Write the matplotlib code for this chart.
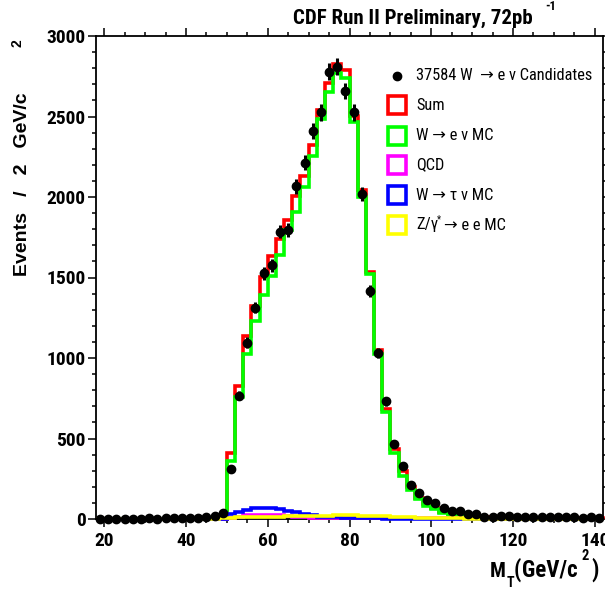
import numpy as np
import matplotlib
matplotlib.use("Agg")
import matplotlib.pyplot as plt
from matplotlib.patches import Rectangle
from matplotlib.lines import Line2D
from matplotlib import font_manager as fm

# ---------------- data ----------------
bin_edges_start, bin_edges_stop, bin_width = 18, 142, 2

data_counts = [3, 2, 3, 2, 3, 3, 4, 3, 4, 5, 5, 7, 9, 12, 16,
               38,
               310, 765, 1095, 1313, 1525, 1575, 1785, 1795, 2066, 2213,
               2410, 2525, 2777, 2808, 2659, 2525, 2020, 1417, 1031, 731,
               465, 330, 210, 162, 116, 100, 70, 50, 52, 31,
               30, 14, 14, 16, 16, 14, 12, 10, 12, 10, 14, 12, 10, 8, 10, 9]

sum_mc = [0] * 16 + [413, 825, 1134, 1325, 1502, 1632, 1740, 1860, 2006, 2128,
                     2325, 2539, 2705, 2825, 2788, 2503, 2041, 1533, 1052, 686,
                     434, 299, 199, 133, 91, 70, 45, 29, 22, 16,
                     12, 10,
                     8, 7, 7, 6, 6, 5, 5, 5, 4, 4, 4, 4, 4, 4]

w_enu = [0] * 16 + [361, 755, 1025, 1228, 1392, 1512, 1637, 1792, 1906, 2062,
                    2253, 2483, 2651, 2769, 2738, 2466, 1999, 1523, 1025, 662,
                    413, 268, 179, 123, 81, 60, 39, 23, 17, 12,
                    8, 6,
                    4, 4, 3, 3, 3, 2, 2, 2, 2, 1, 1, 1, 1, 1]

qcd = [0] * 16 + [8, 15, 22, 25, 27, 27, 25, 20, 15, 10,
                  8, 6, 5, 5, 5, 5, 5, 5, 5, 5,
                  5, 5, 5, 5, 5, 5, 5, 5, 5, 4,
                  4, 4,
                  3, 3, 3, 3, 3, 3, 3, 3, 3, 3, 3, 3, 3, 3]

w_taunu = [0] * 16 + [30, 45, 58, 68, 70, 70, 62, 47, 42, 28,
                      25, 15, 12, 10, 8, 7, 6, 5, 4, 3,
                      3, 2, 1, 1, 0, 0, 0, 0, 0, 0,
                      0, 0] + [0] * 14

z_ee = [0] * 15 + [5] + [8, 10, 11, 12, 13, 14, 15, 16, 17, 18,
                         19, 20, 21, 22, 22, 22, 21, 20, 19, 17,
                         15, 13, 11, 9, 8, 7, 6, 5, 4, 3,
                         2, 1] + [0] * 14

legend_labels = ["37584 W  \u2192 e \u03bd Candidates", "Sum",
                 "W \u2192 e \u03bd MC", "QCD", "W \u2192 \u03c4 \u03bd MC"]
x_ticks = [20, 40, 60, 80, 100, 120, 140]
y_ticks = [0, 500, 1000, 1500, 2000, 2500, 3000]

# ---------------- fonts ----------------
def pick_font(cands, fallback):
    faces = {}
    for f in fm.fontManager.ttflist:
        faces.setdefault(f.name, set()).add((f.weight if isinstance(f.weight, int) else 400, f.style))
    for name in cands:
        w = faces.get(name, set())
        if any(x[0] >= 700 and x[1] == "normal" for x in w) and any(x[0] == 400 and x[1] == "normal" for x in w):
            return name
    return fallback


NARROW = pick_font(["Liberation Sans Narrow", "Arial Narrow", "Nimbus Sans Narrow",
                    "Roboto Condensed", "Archivo Narrow", "PT Sans Narrow",
                    "Fira Sans Condensed"], "Liberation Sans")
WIDE = "Liberation Sans"
NARROW_FAM = [NARROW, "DejaVu Sans"]

W, H = 605, 594
fig = plt.figure(figsize=(W / 100, H / 100), dpi=100)
fig.patch.set_facecolor("white")


def fx(px):
    return px / W


def fy(py):
    return 1 - py / H


ax_l, ax_r, ax_t, ax_b = 96, 603, 36, 519
ax = fig.add_axes([fx(ax_l), fy(ax_b), (ax_r - ax_l) / W, (ax_b - ax_t) / H])

edges = np.arange(bin_edges_start, bin_edges_stop + bin_width, bin_width)
centers = edges[:-1] + bin_width / 2

lw = 2.6
ax.stairs(sum_mc, edges, color="#ff0000", lw=lw, zorder=3, clip_on=False)
ax.stairs(w_enu, edges, color="#00ff00", lw=lw, zorder=3.1, clip_on=False)
ax.stairs(qcd, edges, color="#ff00ff", lw=lw, zorder=3.2, clip_on=False)
ax.stairs(w_taunu, edges, color="#0000ff", lw=lw, zorder=3.3, clip_on=False)
ax.stairs(z_ee, edges, color="#ffff00", lw=lw, zorder=3.4, clip_on=False)

d = np.array(data_counts, dtype=float)
ax.errorbar(centers, d, yerr=np.sqrt(d), fmt="o", color="black", ms=6,
            elinewidth=2.2, capsize=0, zorder=10, clip_on=False)

ax.set_xlim(bin_edges_start, bin_edges_stop)
ax.set_ylim(0, 3000)
ax.set_xticks(x_ticks)
ax.set_yticks(y_ticks)
ax.set_xticks(np.arange(20, 141, 5), minor=True)
ax.set_yticks(np.arange(0, 3001, 100), minor=True)
ax.tick_params(which="both", direction="out", top=True, right=True, width=1.1)
ax.tick_params(which="major", length=6)
ax.tick_params(which="minor", length=3)
ax.tick_params(axis="y", pad=1.5)
ax.tick_params(axis="x", pad=3)
for lab in ax.get_xticklabels() + ax.get_yticklabels():
    lab.set_family(NARROW_FAM)
    lab.set_fontweight("bold")
    lab.set_fontsize(14)
for sp in ax.spines.values():
    sp.set_linewidth(1.3)

# ---------------- titles / labels ----------------
fig.text(fx(293), fy(24), "CDF Run II Preliminary, 72pb", family=NARROW_FAM,
         fontweight="bold", fontsize=15, va="baseline", ha="left")
fig.text(fx(545), fy(10), "-1", family=NARROW_FAM, fontweight="bold",
         fontsize=9, va="baseline", ha="left")

fig.text(fx(31.5), fy(184), "Events   /   2   GeV/c", family=WIDE, fontweight="bold",
         fontsize=14, rotation=90, ha="right", va="center")
fig.text(fx(24.5), fy(43.5), "2", family=WIDE, fontweight="bold",
         fontsize=10, rotation=90, ha="right", va="center")

fig.text(fx(490), fy(577), "M", family=NARROW_FAM, fontweight="bold", fontsize=15,
         va="baseline", ha="left")
fig.text(fx(506.5), fy(587), "T", family=NARROW_FAM, fontweight="bold", fontsize=10,
         va="baseline", ha="left")
fig.text(fx(514), fy(577), "(", family=NARROW_FAM, fontweight="bold", fontsize=16.5,
         va="baseline", ha="left")
fig.text(fx(522), fy(577), "GeV/c", family=NARROW_FAM, fontweight="bold", fontsize=16.5,
         va="baseline", ha="left")
fig.text(fx(582), fy(560), "2", family=NARROW_FAM, fontweight="bold", fontsize=10.5,
         va="baseline", ha="left")
fig.text(fx(591), fy(577), ")", family=NARROW_FAM, fontweight="bold", fontsize=16.5,
         va="baseline", ha="left")

# ---------------- legend ----------------
LFS = 11.8
fig.add_artist(Line2D([fx(397)], [fy(76)], marker="o", color="black", ms=6,
                      transform=fig.transFigure))
fig.text(fx(416), fy(76), legend_labels[0], family=NARROW_FAM, fontsize=LFS,
         va="center", ha="left")
box_cols = ["#ff0000", "#00ff00", "#ff00ff", "#0000ff", "#ffff00"]
box_y = [105, 135.5, 165, 195, 225]
for i, (c, yc) in enumerate(zip(box_cols, box_y)):
    fig.add_artist(Rectangle((fx(387.5), fy(yc + 9)), 18.5 / W, 18 / H,
                             transform=fig.transFigure, fill=False,
                             edgecolor=c, lw=2.6))
    if i < 4:
        fig.text(fx(416), fy(yc), legend_labels[i + 1], family=NARROW_FAM,
                 fontsize=LFS, va="center", ha="left")
fig.text(fx(416), fy(225), "Z/\u03b3", family=NARROW_FAM, fontsize=LFS, va="center", ha="left")
fig.text(fx(437), fy(219), "*", family=NARROW_FAM, fontsize=7, va="center", ha="left")
fig.text(fx(444), fy(225), "\u2192 e e MC", family=NARROW_FAM, fontsize=LFS, va="center", ha="left")

fig.savefig("out.png", dpi=100, facecolor="white")
